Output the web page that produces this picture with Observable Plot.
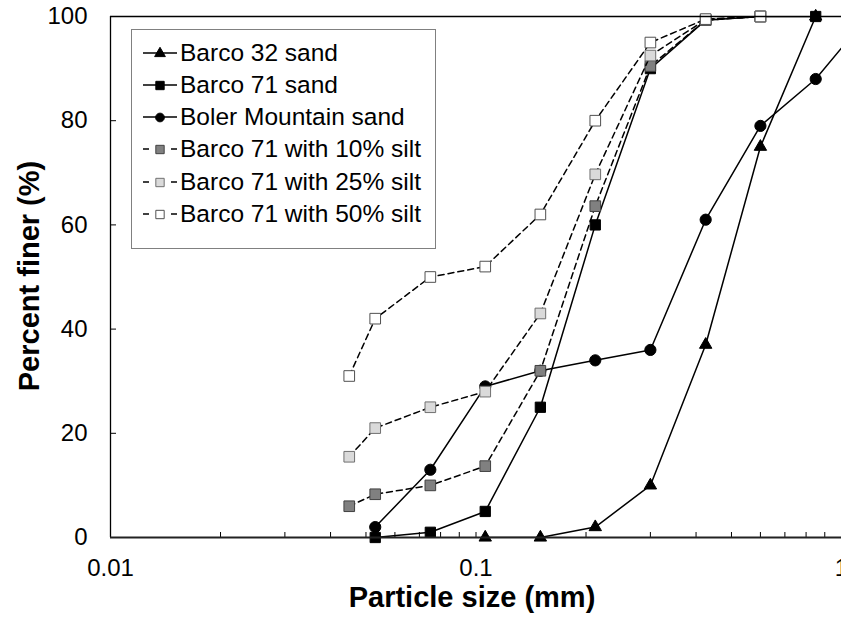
<!DOCTYPE html>
<html>
<head>
<meta charset="utf-8">
<script src="https://cdn.jsdelivr.net/npm/d3@7"></script>
<script src="https://cdn.jsdelivr.net/npm/@observablehq/plot@0.6"></script>
<style>
  html, body { margin: 0; padding: 0; background: #fff; }
  #wrap { position: relative; width: 841px; height: 619px; overflow: hidden; font-family: "Liberation Sans", Arial, sans-serif; }
  #legend { position: absolute; left: 131px; top: 29px; width: 303px; height: 218px; border: 1px solid #808080; background: #fff; }
  .row { position: absolute; left: 0; height: 32px; display: flex; align-items: center; font-size: 24.5px; color: #000; white-space: nowrap; }
  .row svg { margin-left: 11px; margin-right: 2px; }
</style>
</head>
<body>
<div id="wrap"><div id="legend"></div></div>
<script>
// ---- data ----
const seriesNames = ["Barco 32 sand", "Barco 71 sand", "Boler Mountain sand",
  "Barco 71 with 10% silt", "Barco 71 with 25% silt", "Barco 71 with 50% silt"];

const barco32Size = [0.106, 0.15, 0.212, 0.3, 0.425, 0.6, 0.85];
const barco32 = [0, 0, 2, 10, 37, 75, 100];

const barco71Size = [0.053, 0.075, 0.106, 0.15, 0.212, 0.3, 0.425, 0.6, 0.85];
const barco71 = [0, 1, 5, 25, 60, 90, 99.3, 100, 100];

const bolerSize = [0.053, 0.075, 0.106, 0.15, 0.212, 0.3, 0.425, 0.6, 0.85, 1.18];
const boler = [2, 13, 29, 32, 34, 36, 61, 79, 88, 100];

const siltSize = [0.045, 0.053, 0.075, 0.106, 0.15, 0.212, 0.3, 0.425, 0.6];
const silt10 = [6, 8.3, 10, 13.7, 32, 63.6, 90.5, 99.3, 100];
const silt25 = [15.5, 21, 25, 28, 43, 69.7, 92.5, 99.4, 100];
const silt50 = [31, 42, 50, 52, 62, 80, 95, 99.5, 100];

const xTickLabels = [0.01, 0.1, 1];
const xMinorTicks = [0.02, 0.03, 0.04, 0.05, 0.06, 0.07, 0.08, 0.09, 0.1,
  0.2, 0.3, 0.4, 0.5, 0.6, 0.7, 0.8, 0.9];
const yTicks = [0, 20, 40, 60, 80, 100];
const yInnerTicks = [20, 40, 60, 80];

// ---- styling ----
const styles = [
  {symbol: "triangle", fill: "#000", stroke: "#000", dashed: false, r: 4.6},
  {symbol: "square", fill: "#000", stroke: "#000", dashed: false, r: 5.8},
  {symbol: "circle", fill: "#000", stroke: "#000", dashed: false, r: 5.6},
  {symbol: "square", fill: "#808080", stroke: "#404040", dashed: true, r: 6},
  {symbol: "square", fill: "#dadada", stroke: "#707070", dashed: true, r: 6},
  {symbol: "square", fill: "#ffffff", stroke: "#505050", dashed: true, r: 6}
];

const sizesList = [barco32Size, barco71Size, bolerSize, siltSize, siltSize, siltSize];
const valuesList = [barco32, barco71, boler, silt10, silt25, silt50];

const series = seriesNames.map((name, i) => ({
  name, ...styles[i],
  data: sizesList[i].map((s, j) => ({size: s, finer: valuesList[i][j]}))
}));

const W = 841, H = 619, mL = 110, mR = 0, mT = 16, mB = 82;
const plotW = W - mL - mR, plotH = H - mT - mB;
// tick lengths expressed in scale units (≈5 px along y, ≈6 px along x)
const xTickLenY = 100 * 5 / plotH;
const yTickEndX = 0.01 * Math.pow(10, 2 * 6 / plotW);

const seriesMarks = series.flatMap(s => [
  Plot.line(s.data, {x: "size", y: "finer", stroke: "#000", strokeWidth: 1.5,
    strokeDasharray: s.dashed ? "6,4" : null, clip: true}),
  Plot.dot(s.data.filter(d => d.size <= 1), {x: "size", y: "finer", symbol: s.symbol, r: s.r,
    fill: s.fill, stroke: s.stroke, strokeWidth: 1})
]);

const chart = Plot.plot({
  width: W, height: H,
  marginLeft: mL, marginRight: mR, marginTop: mT, marginBottom: mB,
  x: {type: "log", domain: [0.01, 1]},
  y: {domain: [0, 100]},
  style: {fontFamily: "'Liberation Sans', Arial, sans-serif", fontSize: "24px", color: "#000", background: "#fff", overflow: "visible"},
  marks: [
    Plot.axisX({ticks: xTickLabels, tickFormat: d => String(d), tickSize: 0, tickPadding: 21, label: null, fontSize: 24}),
    Plot.axisY({ticks: yTicks, tickSize: 0, tickPadding: 23, label: null, fontSize: 24}),
    Plot.ruleX(xMinorTicks, {x: d => d, y1: 0, y2: xTickLenY, stroke: "#000", strokeWidth: 1}),
    Plot.ruleY(yInnerTicks, {y: d => d, x1: 0.01, x2: yTickEndX, stroke: "#000", strokeWidth: 1}),
    ...seriesMarks,
    Plot.ruleX([0.01], {stroke: "#000", strokeWidth: 1.3}),
    Plot.ruleY([100], {stroke: "#000", strokeWidth: 1.3}),
    Plot.ruleY([0], {stroke: "#222", strokeWidth: 2}),
    Plot.text(["Particle size (mm)"], {text: d => d, frameAnchor: "bottom", textAnchor: "middle", lineAnchor: "bottom",
      dx: -4, dy: 69, fontWeight: "bold", fontSize: 29, fill: "#000"}),
    Plot.text(["Percent finer (%)"], {text: d => d, frameAnchor: "left", textAnchor: "middle", lineAnchor: "middle",
      dx: -81, dy: -1, rotate: -90, fontWeight: "bold", fontSize: 29, fill: "#000"})
  ]
});

const wrap = document.getElementById("wrap");
wrap.insertBefore(chart, wrap.firstChild);

// ---- legend ----
const legend = d3.select("#legend");
const rowTop0 = 22.7, rowStep = 32.2;
series.forEach((s, i) => {
  const row = legend.append("div").attr("class", "row")
    .style("top", (rowTop0 + i * rowStep - 16) + "px");
  const svg = row.append("svg").attr("width", 35).attr("height", 16);
  if (s.dashed) {
    svg.append("line").attr("x1", 0).attr("x2", 6).attr("y1", 8).attr("y2", 8).attr("stroke", "#000").attr("stroke-width", 1.5);
    svg.append("line").attr("x1", 28).attr("x2", 34).attr("y1", 8).attr("y2", 8).attr("stroke", "#000").attr("stroke-width", 1.5);
  } else {
    svg.append("line").attr("x1", 0).attr("x2", 34).attr("y1", 8).attr("y2", 8).attr("stroke", "#000").attr("stroke-width", 1.5);
  }
  const symType = s.symbol === "triangle" ? d3.symbolTriangle : s.symbol === "circle" ? d3.symbolCircle : d3.symbolSquare;
  const sz = s.symbol === "triangle" ? 50 : s.symbol === "circle" ? 60 : 70;
  svg.append("path").attr("d", d3.symbol(symType, sz)()).attr("transform", "translate(17,8.5)")
    .attr("fill", s.fill).attr("stroke", s.stroke).attr("stroke-width", 1);
  row.append("span").text(s.name);
});
</script>
</body>
</html>
